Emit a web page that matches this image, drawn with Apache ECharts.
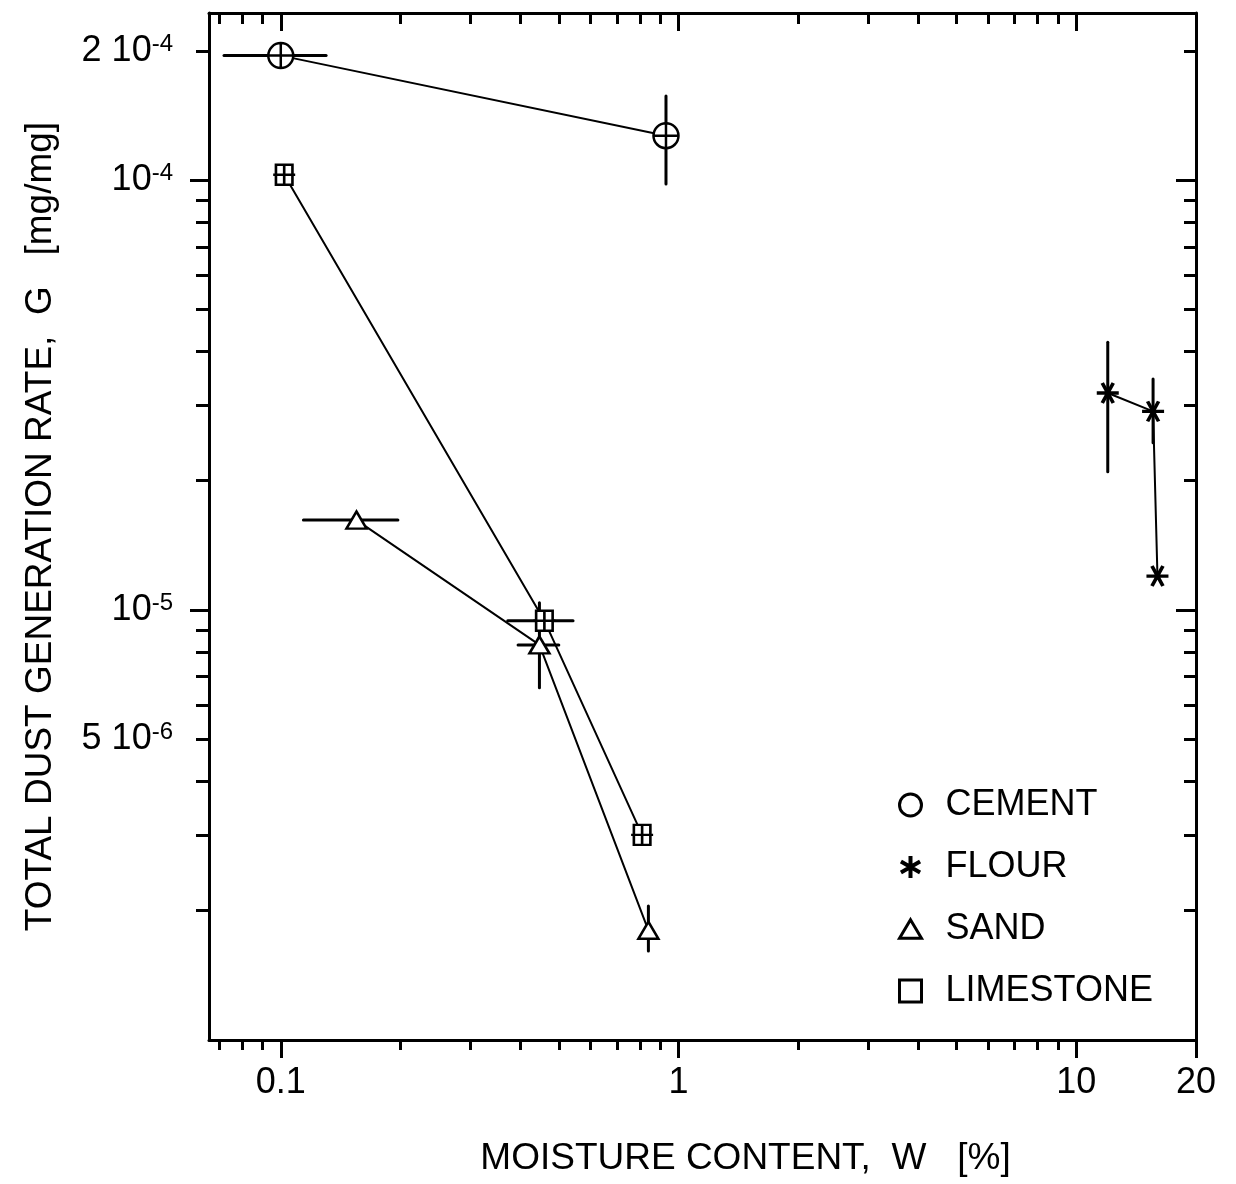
<!DOCTYPE html>
<html><head><meta charset="utf-8">
<script src="https://cdn.jsdelivr.net/npm/echarts@6/dist/echarts.min.js"></script>
<style>html,body{margin:0;padding:0;background:#fff}#c{width:1236px;height:1184px}</style>
</head><body><div id="c"></div>
<script>
// ---- data ----
const seriesNames = ['CEMENT', 'FLOUR', 'SAND', 'LIMESTONE'];
const cementX = [0.10, 0.93];
const cementY = [1.95e-4, 1.27e-4];
const flourX = [12.0, 15.6, 16.0];
const flourY = [3.2e-5, 2.9e-5, 1.2e-5];
const sandX = [0.155, 0.447, 0.84];
const sandY = [1.62e-5, 8.3e-6, 1.8e-6];
const limestoneX = [0.102, 0.46, 0.81];
const limestoneY = [1.03e-4, 9.45e-6, 3.0e-6];

// horizontal error bars (x range at a given y)
const xErrY    = [1.95e-4, 1.62e-5, 8.3e-6, 9.45e-6];
const xErrLow  = [0.072,   0.114,   0.395,  0.372];
const xErrHigh = [0.13,    0.197,   0.50,   0.543];
// vertical error bars (y range at a given x)
const yErrX    = [0.93,    0.447,   0.84,    12.0,   15.6];
const yErrLow  = [0.98e-4, 6.6e-6,  1.61e-6, 2.1e-5, 2.45e-5];
const yErrHigh = [1.57e-4, 1.04e-5, 2.05e-6, 4.2e-5, 3.45e-5];

// axes
const xMin = 0.066, xMax = 20;
const yMin = 1e-6, yMax = 2.45e-4;
const xMajorTicks = [0.1, 1, 10, 20];
const xMinorTicks = [0.07, 0.08, 0.09, 0.2, 0.3, 0.4, 0.5, 0.6, 0.7, 0.8, 0.9, 2, 3, 4, 5, 6, 7, 8, 9];
const xLabelVals = [0.1, 1, 10, 20];
const xLabelText = ['0.1', '1', '10', '20'];
const yMajorTicks = [1e-5, 1e-4];
const yMinorTicks = [2e-6, 3e-6, 4e-6, 5e-6, 6e-6, 7e-6, 8e-6, 9e-6, 2e-5, 3e-5, 4e-5, 5e-5, 6e-5, 7e-5, 8e-5, 9e-5, 2e-4];
const yLabelVals = [2e-4, 1e-4, 1e-5, 5e-6];
const yLabelMant = ['2 ', '', '', '5 '];
const yLabelExp = ['-4', '-4', '-5', '-6'];
const xTitle = 'MOISTURE CONTENT,  W   [%]';
const yTitle = 'TOTAL DUST GENERATION RATE,  G   [mg/mg]';

// ---- styling ----
const FF = '"Liberation Sans", Arial, Helvetica, sans-serif';
const BLACK = '#000';
const symCirclePlus = 'path://M0,12 A12,12 0 1,1 24,12 A12,12 0 1,1 0,12 Z M12,0 L12,24 M0,12 L24,12';
const symSquarePlus = 'path://M3,2 L21,2 L21,20 L3,20 Z M12,2 L12,20 M0,11 L24,11';
const symTriangle = 'path://M10,0 L20,17 L0,17 Z';
const symStar = 'path://M0,10 L20,10 M5,1.3 L15,18.7 M5,18.7 L15,1.3';
const symStarLegend = 'path://M10,0 L10,20 M1.3,5 L18.7,15 M1.3,15 L18.7,5';

function zip(xs, ys) { return xs.map((x, i) => [x, ys[i]]); }
function lineSeries(name, xs, ys, symbol, size, bw) {
  return {
    name, type: 'line', data: zip(xs, ys), xAxisIndex: 0, yAxisIndex: 0,
    symbol, symbolSize: size, showAllSymbol: true, z: 3,
    lineStyle: { color: BLACK, width: 2 },
    itemStyle: { color: '#fff', borderColor: BLACK, borderWidth: bw },
    emphasis: { disabled: true }, animation: false
  };
}
function renderErr(params, api) {
  const p1 = api.coord([api.value(0), api.value(1)]);
  const p2 = api.coord([api.value(2), api.value(3)]);
  return { type: 'line', shape: { x1: p1[0], y1: p1[1], x2: p2[0], y2: p2[1] },
           style: { stroke: BLACK, lineWidth: 3, lineCap: 'round' } };
}
const errData = [];
xErrY.forEach((y, i) => errData.push([xErrLow[i], y, xErrHigh[i], y]));
yErrX.forEach((x, i) => errData.push([x, yErrLow[i], x, yErrHigh[i]]));

function xFmt(v) {
  const i = xLabelVals.findIndex(t => Math.abs(Math.log10(t) - Math.log10(v)) < 1e-3);
  return i < 0 ? '' : xLabelText[i];
}
function yFmt(v) {
  const lv = v > 0 ? Math.log10(v) : v;
  const i = yLabelVals.findIndex(t => Math.abs(Math.log10(t) - lv) < 1e-3);
  return i < 0 ? '' : '{b|' + yLabelMant[i] + '10}{s|' + yLabelExp[i] + '}';
}

const tickLine = { color: BLACK, width: 3 };
function xAx(pos, ticks, len, inside, withLine, withLabel) {
  const a = {
    type: 'log', logBase: 10, gridIndex: 0, position: pos, min: xMin, max: xMax,
    axisLine: { show: withLine, onZero: false, lineStyle: { color: BLACK, width: 3 } },
    axisTick: { show: true, inside, length: len, customValues: ticks, lineStyle: tickLine },
    axisLabel: { show: false }, splitLine: { show: false }, minorTick: { show: false }
  };
  if (withLabel) {
    a.axisLabel = { show: true, customValues: xLabelVals, formatter: xFmt, margin: 25,
      fontSize: 36, color: BLACK, fontFamily: FF };
    a.name = xTitle; a.nameLocation = 'middle'; a.nameGap = 100;
    a.nameTextStyle = { fontSize: 37, color: BLACK, fontFamily: FF, padding: [0, 0, 0, 86] };
  }
  return a;
}
function yAx(pos, ticks, len, inside, withLine, withLabel) {
  const a = {
    type: 'log', logBase: 10, gridIndex: 0, position: pos, min: yMin, max: yMax,
    axisLine: { show: withLine, onZero: false, lineStyle: { color: BLACK, width: 3 } },
    axisTick: { show: true, inside, length: len, customValues: ticks, lineStyle: tickLine },
    axisLabel: { show: false }, splitLine: { show: false }, minorTick: { show: false }
  };
  if (withLabel) {
    a.axisLabel = { show: true, customValues: yLabelVals, formatter: yFmt, margin: 36,
      color: BLACK, fontFamily: FF,
      rich: {
        b: { fontSize: 36, lineHeight: 38, fontFamily: FF, color: BLACK },
        s: { fontSize: 24, lineHeight: 24, verticalAlign: 'top', fontFamily: FF, color: BLACK }
      } };
    a.name = yTitle; a.nameLocation = 'middle'; a.nameGap = 150;
    a.nameTextStyle = { fontSize: 37, color: BLACK, fontFamily: FF };
  }
  return a;
}

const option = {
  backgroundColor: '#fff',
  animation: false,
  grid: { left: 209, right: 40, top: 13, bottom: 144, containLabel: false },
  xAxis: [
    xAx('bottom', xMinorTicks, 10, false, true, true),
    xAx('bottom', xMajorTicks, 18, false, false, false),
    xAx('top', xMinorTicks, 11, true, true, false),
    xAx('top', xMajorTicks, 18, true, false, false)
  ],
  yAxis: [
    yAx('left', yMinorTicks, 13, false, true, true),
    yAx('left', yMajorTicks, 19, false, false, false),
    yAx('right', yMinorTicks, 12, true, true, false),
    yAx('right', yMajorTicks, 20, true, false, false)
  ],
  legend: {
    orient: 'vertical', left: 893, top: 782, itemWidth: 22, itemHeight: 22, itemGap: 26,
    selectedMode: false,
    textStyle: { fontSize: 36, lineHeight: 36, color: BLACK, fontFamily: FF, padding: [0, 0, 0, 19] },
    data: [
      { name: 'CEMENT', icon: 'circle', itemStyle: { color: '#fff', borderColor: BLACK, borderWidth: 3 } },
      { name: 'FLOUR', icon: symStarLegend, itemStyle: { color: BLACK, borderColor: BLACK, borderWidth: 4 } },
      { name: 'SAND', icon: symTriangle, itemStyle: { color: '#fff', borderColor: BLACK, borderWidth: 3 } },
      { name: 'LIMESTONE', icon: 'rect', itemStyle: { color: '#fff', borderColor: BLACK, borderWidth: 3 } }
    ]
  },
  series: [
    { type: 'custom', name: 'errorbars', renderItem: renderErr, data: errData,
      encode: { x: [0, 2], y: [1, 3] }, xAxisIndex: 0, yAxisIndex: 0, z: 2, silent: true },
    lineSeries('CEMENT', cementX, cementY, symCirclePlus, 25, 2.5),
    lineSeries('FLOUR', flourX, flourY, symStar, [22, 20], 3.5),
    lineSeries('SAND', sandX, sandY, symTriangle, [20, 17], 2.5),
    lineSeries('LIMESTONE', limestoneX, limestoneY, symSquarePlus, [22, 20], 2.5)
  ]
};
const chart = echarts.init(document.getElementById('c'), null, { renderer: 'canvas' });
chart.setOption(option);
</script>
</body></html>
